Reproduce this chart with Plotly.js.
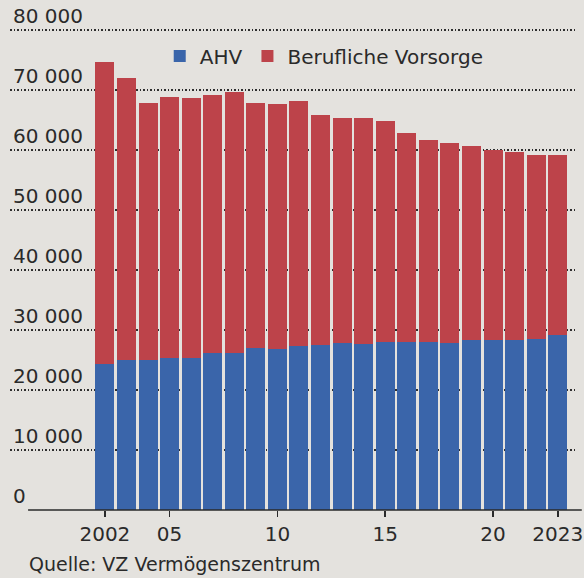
<!DOCTYPE html>
<html>
<head>
<meta charset="utf-8">
<script src="https://cdn.plot.ly/plotly-3.0.1.min.js"></script>
<style>
  html, body { margin: 0; padding: 0; background: #e4e2de; }
  #chart { width: 584px; height: 578px; }
</style>
</head>
<body>
<div id="chart"></div>
<script>
// Years (2002–2023)
const years = [2002, 2003, 2004, 2005, 2006, 2007, 2008, 2009, 2010, 2011, 2012,
               2013, 2014, 2015, 2016, 2017, 2018, 2019, 2020, 2021, 2022, 2023];

// AHV part (CHF per year)
const ahv = [24300, 25000, 25000, 25400, 25400, 26100, 26100, 27000, 26900, 27400, 27450,
             27800, 27700, 27950, 28000, 28000, 27900, 28300, 28400, 28400, 28450, 29200];

// Berufliche Vorsorge part (CHF per year)
const bv = [50400, 47000, 42900, 43400, 43250, 43000, 43600, 40900, 40800, 40700, 38350,
            37500, 37700, 36950, 34800, 33700, 33200, 32300, 31600, 31200, 30750, 29900];

// Axis tick labels
const yTickVals = [0, 10000, 20000, 30000, 40000, 50000, 60000, 70000, 80000];
const yTickText = ["0", "10 000", "20 000", "30 000", "40 000", "50 000", "60 000", "70 000", "80 000"];
const xTickVals = [2002, 2005, 2010, 2015, 2020, 2023];
const xTickText = ["2002", "05", "10", "15", "20", "2023"];

const seriesNames = ["AHV", "Berufliche Vorsorge"];
const sourceText = "Quelle: VZ Vermögenszentrum";

const blue = "#3a65aa";
const red = "#bd434a";
const ink = "#2a2a2a";
const bg = "#e4e2de";
const font = "DejaVu Sans, sans-serif";

const traces = [
  { type: "bar", name: seriesNames[0], x: years, y: ahv,
    marker: { color: blue }, width: 0.88, hoverinfo: "skip" },
  { type: "bar", name: seriesNames[1], x: years, y: bv,
    marker: { color: red }, width: 0.88, hoverinfo: "skip" }
];

const layout = {
  width: 584, height: 578,
  barmode: "stack",
  paper_bgcolor: bg,
  plot_bgcolor: bg,
  margin: { l: 10, r: 9, t: 0, b: 68 },
  font: { family: font, size: 20, color: ink },
  showlegend: true,
  legend: {
    orientation: "h",
    x: 0.265, xanchor: "left",
    y: 0.890, yanchor: "middle",
    bgcolor: "rgba(0,0,0,0)",
    font: { family: font, size: 20, color: ink },
    traceorder: "normal"
  },
  xaxis: {
    range: [1997.6, 2023.8],
    tickvals: xTickVals, ticktext: xTickText,
    ticks: "outside", ticklen: 6, tickwidth: 1.5, tickcolor: ink,
    showline: false,
    showgrid: false, zeroline: false,
    tickfont: { family: font, size: 20, color: ink }
  },
  yaxis: {
    range: [0, 85000],
    tickvals: yTickVals, ticktext: yTickText,
    ticklabelposition: "inside top",
    ticks: "",
    showgrid: true, gridcolor: "#2e2e2e", gridwidth: 1.8, griddash: "1.5px,2px",
    zeroline: false, showline: false,
    tickfont: { family: font, size: 20, color: ink }
  },
  shapes: [
    { type: "line", xref: "paper", yref: "paper", x0: 0.032, x1: 1.012, y0: 0, y1: 0,
      line: { color: ink, width: 1.5 }, layer: "above" }
  ],
  annotations: [
    { text: sourceText, xref: "paper", yref: "paper", x: 0.03, y: -0.0798,
      xanchor: "left", yanchor: "top", showarrow: false,
      font: { family: font, size: 19, color: ink } }
  ]
};

Plotly.newPlot("chart", traces, layout, { staticPlot: true, displayModeBar: false });
</script>
</body>
</html>
